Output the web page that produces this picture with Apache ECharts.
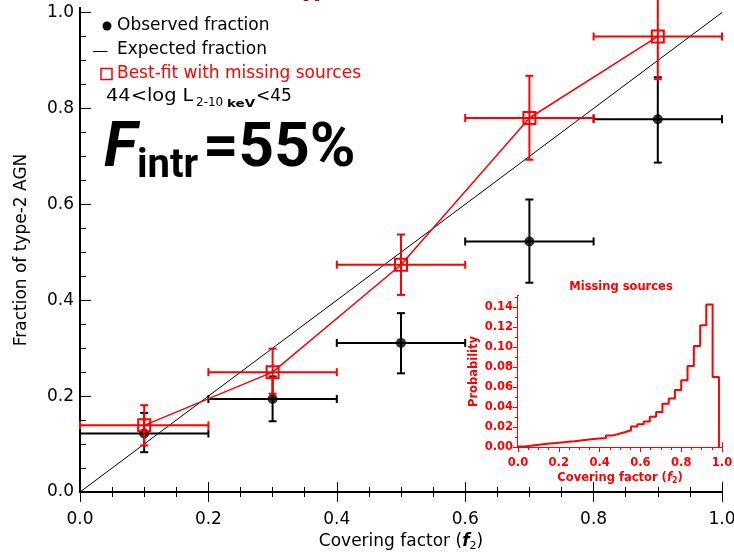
<!DOCTYPE html>
<html><head><meta charset="utf-8">
<script src="https://cdn.jsdelivr.net/npm/echarts@6/dist/echarts.min.js"></script>
<style>html,body{margin:0;padding:0;background:#fff}#c{width:734px;height:552px}</style>
</head><body><div id="c"></div>
<script>
// ---- data ----
const coverCenters = [0.1, 0.3, 0.5, 0.7, 0.9];
const coverLow = [0.0, 0.2, 0.4, 0.6, 0.8];
const coverHigh = [0.2, 0.4, 0.6, 0.8, 1.0];
const observedFrac = [0.122, 0.194, 0.311, 0.5225, 0.7775];
const observedLow = [0.083, 0.1475, 0.2475, 0.4365, 0.687];
const observedHigh = [0.165, 0.241, 0.373, 0.610, 0.865];
const bestFitFrac = [0.139, 0.250, 0.474, 0.780, 0.950];
const bestFitLow = [0.097, 0.205, 0.411, 0.693, 0.861];
const bestFitHigh = [0.181, 0.299, 0.537, 0.868, 1.040];
const expectedX = [0, 1];
const expectedY = [0, 1];
// inset histogram: bin edges and probabilities
const histEdges = [0.000, 0.031, 0.062, 0.092, 0.123, 0.154, 0.185, 0.215, 0.246, 0.277, 0.308, 0.339, 0.369,
  0.400, 0.431, 0.462, 0.492, 0.523, 0.554, 0.585, 0.616, 0.646, 0.677, 0.708, 0.739, 0.769, 0.800, 0.831,
  0.862, 0.893, 0.923, 0.954, 0.985];
const histProb = [0.0005, 0.0012, 0.0020, 0.0028, 0.0034, 0.0040, 0.0046, 0.0052, 0.0058, 0.0065, 0.0072, 0.0079,
  0.0086, 0.0090, 0.0114, 0.0130, 0.0147, 0.0167, 0.0205, 0.0228, 0.0256, 0.0303, 0.0349, 0.0433, 0.0484,
  0.0571, 0.0668, 0.0810, 0.1010, 0.1218, 0.1426, 0.0700];
// tick values
const mainMajorTicks = [0, 0.2, 0.4, 0.6, 0.8, 1.0];
const mainMinorTicks = [0, 0.05, 0.1, 0.15, 0.2, 0.25, 0.3, 0.35, 0.4, 0.45, 0.5, 0.55, 0.6, 0.65, 0.7, 0.75, 0.8, 0.85, 0.9, 0.95, 1.0];
const insetXMajorTicks = [0, 0.2, 0.4, 0.6, 0.8, 1.0];
const insetXMinorTicks = [0, 0.05, 0.1, 0.15, 0.2, 0.25, 0.3, 0.35, 0.4, 0.45, 0.5, 0.55, 0.6, 0.65, 0.7, 0.75, 0.8, 0.85, 0.9, 0.95, 1.0];
const insetYMajorTicks = [0, 0.02, 0.04, 0.06, 0.08, 0.10, 0.12, 0.14];
const insetYMinorTicks = [0, 0.01, 0.02, 0.03, 0.04, 0.05, 0.06, 0.07, 0.08, 0.09, 0.10, 0.11, 0.12, 0.13, 0.14, 0.15];

const FONT = 'DejaVu Sans';
const RED = '#ff0000';
const chart = echarts.init(document.getElementById('c'), null, {renderer: 'canvas'});

function errItems(yv, ylo, yhi) {
  return coverCenters.map((x, i) => [x, yv[i], coverLow[i], coverHigh[i], ylo[i], yhi[i]]);
}
function errorBar(color) {
  return function (params, api) {
    const x = api.value(0), y = api.value(1);
    const pl = api.coord([api.value(2), y]);
    const ph = api.coord([api.value(3), y]);
    const pb = api.coord([x, api.value(4)]);
    const pt = api.coord([x, api.value(5)]);
    const cap = 4;
    const st = {stroke: color, lineWidth: 2};
    return {type: 'group', children: [
      {type: 'line', shape: {x1: pl[0], y1: pl[1], x2: ph[0], y2: ph[1]}, style: st},
      {type: 'line', shape: {x1: pl[0], y1: pl[1] - cap, x2: pl[0], y2: pl[1] + cap}, style: st},
      {type: 'line', shape: {x1: ph[0], y1: ph[1] - cap, x2: ph[0], y2: ph[1] + cap}, style: st},
      {type: 'line', shape: {x1: pb[0], y1: pb[1], x2: pt[0], y2: pt[1]}, style: st},
      {type: 'line', shape: {x1: pb[0] - cap, y1: pb[1], x2: pb[0] + cap, y2: pb[1]}, style: st},
      {type: 'line', shape: {x1: pt[0] - cap, y1: pt[1], x2: pt[0] + cap, y2: pt[1]}, style: st}
    ]};
  };
}

function tickAxis(base, ticks, len, inside, color, lineShow) {
  return Object.assign({
    type: 'value', splitLine: {show: false},
    axisLine: {show: lineShow, lineStyle: {color: color, width: 2}},
    axisTick: {show: true, inside: inside, length: len, customValues: ticks, lineStyle: {color: color, width: 1}},
    axisLabel: {show: false}
  }, base);
}

const mainX = {gridIndex: 0, min: 0, max: 1};
const mainY = {gridIndex: 0, min: 0, max: 1.0094};
const insX = {gridIndex: 1, min: 0, max: 1};
const insY = {gridIndex: 1, min: 0, max: 0.151};

const xAxes = [
  Object.assign(tickAxis(Object.assign({position: 'bottom'}, mainX), mainMajorTicks, 10, true, '#000', true), {
    axisLabel: {show: true, customValues: mainMajorTicks, formatter: v => v.toFixed(1), fontFamily: FONT, fontSize: 17, color: '#000', margin: 19},
    name: '{t|Covering factor (}{i|f}{s|2}{t|)}', nameLocation: 'middle', nameGap: 39,
    nameTextStyle: {rich: {
      t: {fontFamily: FONT, fontSize: 17, color: '#000'},
      i: {fontFamily: FONT, fontSize: 17, fontStyle: 'italic', fontWeight: 'bold', color: '#000'},
      s: {fontFamily: FONT, fontSize: 11, color: '#000', padding: [10, 0, 0, 0]}
    }}
  }),
  tickAxis(Object.assign({position: 'bottom'}, mainX), mainMinorTicks, 5, true, '#000', false),
  tickAxis(Object.assign({position: 'top'}, mainX), mainMajorTicks, 10, true, '#000', true),
  tickAxis(Object.assign({position: 'top'}, mainX), mainMinorTicks, 5, true, '#000', false),
  Object.assign(tickAxis(Object.assign({position: 'bottom'}, insX), insetXMajorTicks, 5, true, RED, true), {
    axisLabel: {show: true, customValues: insetXMajorTicks, formatter: v => v.toFixed(1), fontFamily: FONT, fontSize: 11.5, fontWeight: 'bold', color: RED, margin: 10},
    name: '{t|Covering factor (}{i|f}{s|2}{t|)}', nameLocation: 'middle', nameGap: 24,
    nameTextStyle: {rich: {
      t: {fontFamily: FONT, fontSize: 11.5, fontWeight: 'bold', color: RED},
      i: {fontFamily: FONT, fontSize: 11.5, fontStyle: 'italic', fontWeight: 'bold', color: RED},
      s: {fontFamily: FONT, fontSize: 8, fontWeight: 'bold', color: RED, padding: [6, 0, 0, 0]}
    }}
  }),
  tickAxis(Object.assign({position: 'bottom'}, insX), insetXMinorTicks, 3, true, RED, false),
  tickAxis(Object.assign({position: 'top'}, insX), insetXMajorTicks, 5, true, RED, true),
  tickAxis(Object.assign({position: 'top'}, insX), insetXMinorTicks, 3, true, RED, false)
];
const yAxes = [
  Object.assign(tickAxis(Object.assign({position: 'left'}, mainY), mainMajorTicks, 11, true, '#000', true), {
    axisLabel: {show: true, customValues: mainMajorTicks, formatter: v => v.toFixed(1), fontFamily: FONT, fontSize: 17, color: '#000', margin: 6},
    name: 'Fraction of type-2 AGN', nameLocation: 'middle', nameGap: 50,
    nameTextStyle: {fontFamily: FONT, fontSize: 17, color: '#000'}
  }),
  tickAxis(Object.assign({position: 'left'}, mainY), mainMinorTicks, 6, true, '#000', false),
  tickAxis(Object.assign({position: 'right'}, mainY), mainMajorTicks, 11, false, '#000', true),
  tickAxis(Object.assign({position: 'right'}, mainY), mainMinorTicks, 6, false, '#000', false),
  Object.assign(tickAxis(Object.assign({position: 'left'}, insY), insetYMajorTicks, 5, true, RED, true), {
    axisLabel: {show: true, customValues: insetYMajorTicks, formatter: v => v.toFixed(2), fontFamily: FONT, fontSize: 11.5, fontWeight: 'bold', color: RED, margin: 5},
    name: 'Probability', nameLocation: 'middle', nameGap: 38,
    nameTextStyle: {fontFamily: FONT, fontSize: 11.5, fontWeight: 'bold', color: RED}
  }),
  tickAxis(Object.assign({position: 'left'}, insY), insetYMinorTicks, 3, true, RED, false),
  tickAxis(Object.assign({position: 'right'}, insY), insetYMajorTicks, 5, true, RED, true),
  tickAxis(Object.assign({position: 'right'}, insY), insetYMinorTicks, 3, true, RED, false)
];

const histData = histEdges.slice(0, histProb.length).map((e, i) => [e, histProb[i]]);
histData.push([histEdges[histEdges.length - 1], 0]);

const option = {
  animation: false,
  backgroundColor: '#fff',
  grid: [
    {left: 80, top: 8, width: 642, height: 484, show: false, outerBoundsMode: 'none', containLabel: false},
    {left: 518, top: 296, width: 204, height: 151, show: true, backgroundColor: '#fff', borderWidth: 0, z: 10, outerBoundsMode: 'none', containLabel: false}
  ],
  xAxis: xAxes,
  yAxis: yAxes,
  series: [
    {type: 'line', xAxisIndex: 0, yAxisIndex: 0, data: expectedX.map((x, i) => [x, expectedY[i]]), showSymbol: false,
      lineStyle: {color: '#000', width: 1}, z: 2},
    {type: 'custom', xAxisIndex: 0, yAxisIndex: 0, renderItem: errorBar('#000'), data: errItems(observedFrac, observedLow, observedHigh), z: 3},
    {type: 'scatter', xAxisIndex: 0, yAxisIndex: 0, data: coverCenters.map((x, i) => [x, observedFrac[i]]), symbol: 'circle', symbolSize: 10,
      itemStyle: {color: '#000'}, z: 4},
    {type: 'custom', xAxisIndex: 0, yAxisIndex: 0, renderItem: errorBar(RED), data: errItems(bestFitFrac, bestFitLow, bestFitHigh), z: 5},
    {type: 'line', xAxisIndex: 0, yAxisIndex: 0, data: coverCenters.map((x, i) => [x, bestFitFrac[i]]), symbol: 'rect', symbolSize: 12,
      showSymbol: true, lineStyle: {color: RED, width: 1.5}, itemStyle: {color: 'rgba(0,0,0,0)', borderColor: RED, borderWidth: 2}, z: 6},
    {type: 'line', xAxisIndex: 4, yAxisIndex: 4, data: histData, step: 'end', showSymbol: false,
      lineStyle: {color: RED, width: 2}, z: 12}
  ],
  graphic: [
    {type: 'text', left: 303, top: -16, style: {text: 'X', font: 'bold 22px "DejaVu Sans"', fill: '#a01010'}},
    {type: 'circle', shape: {cx: 107, cy: 26, r: 4.5}, style: {fill: '#000'}},
    {type: 'text', x: 117, y: 26, style: {text: 'Observed fraction', font: '17px "DejaVu Sans"', fill: '#000', verticalAlign: 'middle'}},
    {type: 'line', shape: {x1: 93, y1: 51.5, x2: 107.5, y2: 51.5}, style: {stroke: '#000', lineWidth: 1}},
    {type: 'text', x: 117, y: 50, style: {text: 'Expected fraction', font: '17px "DejaVu Sans"', fill: '#000', verticalAlign: 'middle'}},
    {type: 'rect', shape: {x: 101, y: 68.5, width: 11, height: 11}, style: {fill: 'none', stroke: RED, lineWidth: 1.5}},
    {type: 'text', x: 117, y: 74, style: {text: 'Best-fit with missing sources', font: '17px "DejaVu Sans"', fill: RED, verticalAlign: 'middle'}},
    {type: 'text', x: 106, y: 97, scaleX: 1.14, style: {text: '44<log L', font: '17px "DejaVu Sans"', fill: '#000', verticalAlign: 'middle'}},
    {type: 'text', x: 196, y: 103, style: {text: '2-10', font: '12px "DejaVu Sans"', fill: '#000', verticalAlign: 'middle'}},
    {type: 'text', x: 227, y: 104, scaleX: 1.35, style: {text: 'keV', font: 'bold 10px "DejaVu Sans"', fill: '#000', verticalAlign: 'middle'}},
    {type: 'text', x: 256, y: 97, style: {text: '<45', font: '17px "DejaVu Sans"', fill: '#000', verticalAlign: 'middle'}},
    {type: 'text', x: 104, y: 119, style: {text: 'F', font: 'italic bold 62px Roboto', fill: '#000', verticalAlign: 'top'}},
    {type: 'text', x: 137, y: 147, style: {text: 'intr', font: 'bold 40px Roboto', fill: '#000', verticalAlign: 'top'}},
    {type: 'text', x: 203, y: 119, style: {text: '=55%', font: 'bold 62px Roboto', fill: '#000', verticalAlign: 'top'}},
    {type: 'text', x: 621, y: 287, z: 20, style: {text: 'Missing sources', font: 'bold 11.5px "DejaVu Sans"', fill: RED, align: 'center', verticalAlign: 'middle'}}
  ]
};
chart.setOption(option);
</script>
</body></html>
